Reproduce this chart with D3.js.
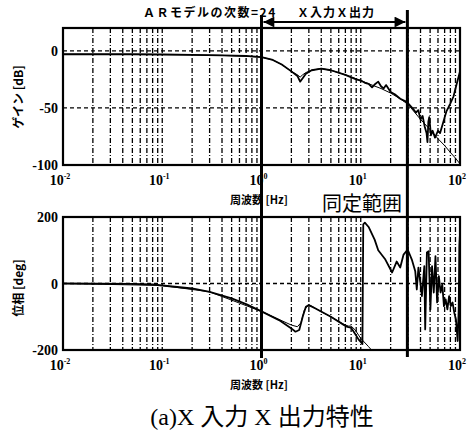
<!DOCTYPE html>
<html>
<head>
<meta charset="utf-8">
<script src="https://cdn.jsdelivr.net/npm/d3@7"></script>
<style>
  body { margin: 0; background: #fff; }
  svg { display: block; }
</style>
</head>
<body>
<div id="chart"></div>
<script>
// frequency [Hz] / gain [dB]
const gainFreq = [0.01, 0.02, 0.05, 0.1, 0.2, 0.4, 0.7, 1.0, 1.3, 1.6, 2.0, 2.3, 2.45, 2.6, 2.8, 3.2, 4, 5, 7, 9, 10, 11, 12, 13, 14, 15, 16, 17, 18, 20, 22, 25, 28, 30, 33, 36, 38, 40, 42, 44, 46, 47, 48, 49, 51, 53, 56, 60, 63, 67, 73, 80, 86, 92, 100];
const gainMeasured = [-3, -3, -3, -3.2, -3.5, -4, -4.5, -5.5, -8, -12, -18, -22, -27, -24, -20, -17, -15.5, -17, -21, -25, -26, -28, -29, -32, -29, -27, -31, -33, -30, -36, -38, -42, -44, -46, -50, -54, -52, -60, -57, -66, -72, -80, -62, -58, -74, -70, -76, -70, -72, -64, -53, -46, -40, -30, -18];

const gainModelFreq = [0.01, 0.1, 0.4, 1, 1.3, 1.6, 2, 2.3, 2.45, 2.6, 2.8, 3.2, 4, 5, 7, 10, 13, 16, 20, 25, 30, 40, 50, 60, 70, 80, 90, 100];
const gainModel = [-3, -3.2, -4, -5.5, -8, -12, -18, -21, -23, -21, -19, -17, -15.5, -17, -21, -26, -30, -33, -37, -42, -47, -60, -69, -77, -83, -89, -94, -99];

// phase [deg]
const phaseFreq = [0.01, 0.05, 0.08, 0.1, 0.2, 0.3, 0.5, 0.7, 1.0, 1.5, 2.0, 2.2, 2.4, 2.6, 2.8, 3.0, 3.5, 5, 7, 7.5, 8, 8.5, 9.5, 10.4, 10.6, 11, 12, 13.8, 15, 17.7, 20.7, 23, 25, 27, 29.3, 30.2, 32.7, 35.4, 36.7, 38.1, 39.7, 41.3, 43.7, 44.6, 46.4, 48.3, 50.3, 52.3, 54.4, 56.6, 58.8, 61.2, 63.7, 66.3, 68.9, 71.7, 74.6, 77.7, 80.8, 84.1, 87.5, 91, 94.7, 97, 98.5, 99.6];
const phaseMeasured = [0, -1, -3, -6, -15, -25, -45, -62, -84, -110, -135, -145, -140, -100, -70, -65, -75, -100, -128, -131, -133, -145, -168, -182, 178, 183, 170, 132, 100, 72, 33, 66, 48, 87, 100, 97, 72, 37, -18, 48, 7, -38, 52, -138, 93, 97, -78, 52, -27, 82, -57, 22, -27, -3, -68, -48, -78, -38, -68, -57, -87, -108, -173, -78, 112, 142];

const phaseModelFreq = [0.01, 0.1, 0.3, 1, 1.5, 2, 2.3, 2.5, 2.7, 2.9, 3.2, 4, 5, 7, 7.5, 8, 8.8, 10, 12, 13];
const phaseModel = [0, -6, -25, -84, -108, -125, -130, -118, -80, -68, -68, -85, -100, -125, -128, -128, -140, -165, -190, -202];

const gainTicks = [0, -50, -100];
const phaseTicks = [200, 0, -200];
const decades = [-2, -1, 0, 1, 2];
const rangeLow = 1.0, rangeHigh = 29.5;  // identification range [Hz]

const W = 470, H = 433;
const svg = d3.select("#chart").append("svg").attr("width", W).attr("height", H);

const x = d3.scaleLog().domain([0.01, 100]).range([63, 460]);
const yGain = d3.scaleLinear().domain([-100, 20]).range([165, 28]);
const yPhase = d3.scaleLinear().domain([-200, 200]).range([350, 217]);

// minor grid frequencies (2..9 in each decade plus inner decades)
const gridFreq = [];
for (let k = -2; k < 2; k++) {
  for (let n = 1; n <= 9; n++) {
    const f = n * Math.pow(10, k);
    if (f > 0.01) gridFreq.push(f);
  }
}

function drawPanel(y, ticks, hLines, clipId, series, ylabel, ycenter) {
  const [yb, yt] = y.range();
  const g = svg.append("g");

  svg.append("clipPath").attr("id", clipId)
    .append("rect").attr("x", 63).attr("y", yt).attr("width", 397).attr("height", yb - yt);

  g.selectAll(".vgrid").data(gridFreq).join("line")
    .attr("x1", d => x(d)).attr("x2", d => x(d))
    .attr("y1", yt).attr("y2", yb)
    .attr("stroke", "#000").attr("stroke-width", 1.3)
    .attr("stroke-dasharray", "5,2,1,2");

  g.selectAll(".hgrid").data(hLines).join("line")
    .attr("x1", 63).attr("x2", 460)
    .attr("y1", d => y(d)).attr("y2", d => y(d))
    .attr("stroke", "#000").attr("stroke-width", 1.3)
    .attr("stroke-dasharray", "4,3");

  const line = d3.line().x(d => x(d[0])).y(d => y(d[1]));
  series.forEach(s => {
    g.append("path")
      .datum(d3.zip(s.f, s.v))
      .attr("d", line)
      .attr("fill", "none")
      .attr("stroke", "#000")
      .attr("stroke-width", s.w)
      .attr("stroke-linejoin", "round")
      .attr("clip-path", `url(#${clipId})`);
  });

  g.append("rect")
    .attr("x", 63).attr("y", yt).attr("width", 397).attr("height", yb - yt)
    .attr("fill", "none").attr("stroke", "#000").attr("stroke-width", 2.2);

  g.selectAll(".ytick").data(ticks).join("text")
    .attr("x", 58).attr("y", d => y(d) + 5)
    .attr("text-anchor", "end")
    .attr("font-family", "Liberation Serif, serif")
    .attr("font-weight", "bold").attr("font-size", 14)
    .text(d => d);

  const xt = g.selectAll(".xtick").data(decades).join("text")
    .attr("x", d => x(Math.pow(10, d)) - 3)
    .attr("y", yb + 20)
    .attr("text-anchor", "middle")
    .attr("font-family", "Liberation Serif, serif")
    .attr("font-weight", "bold").attr("font-size", 14);
  xt.append("tspan").text("10");
  xt.append("tspan").attr("dy", -6).attr("font-size", 8).text(d => d);

  g.append("text")
    .attr("transform", `translate(23,${ycenter}) rotate(-90)`)
    .attr("text-anchor", "middle")
    .attr("font-family", "Noto Sans CJK JP, sans-serif")
    .attr("font-weight", "bold").attr("font-size", 12)
    .text(ylabel);

  g.append("text")
    .attr("x", 259).attr("y", yb + 39)
    .attr("text-anchor", "middle")
    .attr("font-family", "Noto Sans CJK JP, sans-serif")
    .attr("font-weight", "bold").attr("font-size", 11)
    .text("周波数 [Hz]");
}

drawPanel(yGain, gainTicks, [0, -50], "clipGain", [
  { f: gainModelFreq, v: gainModel, w: 1 },
  { f: gainFreq, v: gainMeasured, w: 1.8 }
], "ゲイン [dB]", 97);

drawPanel(yPhase, phaseTicks, [0], "clipPhase", [
  { f: phaseModelFreq, v: phaseModel, w: 1 },
  { f: phaseFreq, v: phaseMeasured, w: 1.8 }
], "位相 [deg]", 288);

// identification range markers
svg.append("line")
  .attr("x1", x(rangeLow)).attr("x2", x(rangeLow))
  .attr("y1", 15).attr("y2", 358)
  .attr("stroke", "#000").attr("stroke-width", 3);
svg.append("line")
  .attr("x1", x(rangeHigh)).attr("x2", x(rangeHigh))
  .attr("y1", 10).attr("y2", 357)
  .attr("stroke", "#000").attr("stroke-width", 3);

svg.append("defs").append("marker")
  .attr("id", "arrow").attr("viewBox", "0 0 10 10")
  .attr("refX", 10).attr("refY", 5)
  .attr("markerWidth", 8).attr("markerHeight", 6)
  .attr("orient", "auto-start-reverse")
  .append("path").attr("d", "M0,0 L10,5 L0,10 z").attr("fill", "#000");

svg.append("line")
  .attr("x1", x(rangeLow) + 2).attr("x2", x(rangeHigh) - 2)
  .attr("y1", 22).attr("y2", 22)
  .attr("stroke", "#000").attr("stroke-width", 1.8)
  .attr("marker-start", "url(#arrow)").attr("marker-end", "url(#arrow)");

svg.append("text")
  .attr("x", 143).attr("y", 17)
  .attr("font-family", "Noto Sans CJK JP, sans-serif")
  .attr("font-weight", "bold").attr("font-size", 12)
  .attr("letter-spacing", 1.5)
  .text("ＡＲモデルの次数=24");

svg.append("text")
  .attr("x", 297).attr("y", 17)
  .attr("font-family", "Noto Sans CJK JP, sans-serif")
  .attr("font-weight", "bold").attr("font-size", 12)
  .attr("letter-spacing", 1)
  .text("Ｘ入力Ｘ出力");

svg.append("text")
  .attr("x", 322).attr("y", 211)
  .attr("font-family", "Noto Sans CJK JP, sans-serif")
  .attr("font-size", 20)
  .text("同定範囲");

svg.append("text")
  .attr("x", 262).attr("y", 425)
  .attr("text-anchor", "middle")
  .attr("font-family", "Liberation Serif, Noto Sans CJK JP, serif")
  .attr("font-size", 24)
  .text("(a)X 入力 X 出力特性");
</script>
</body>
</html>
